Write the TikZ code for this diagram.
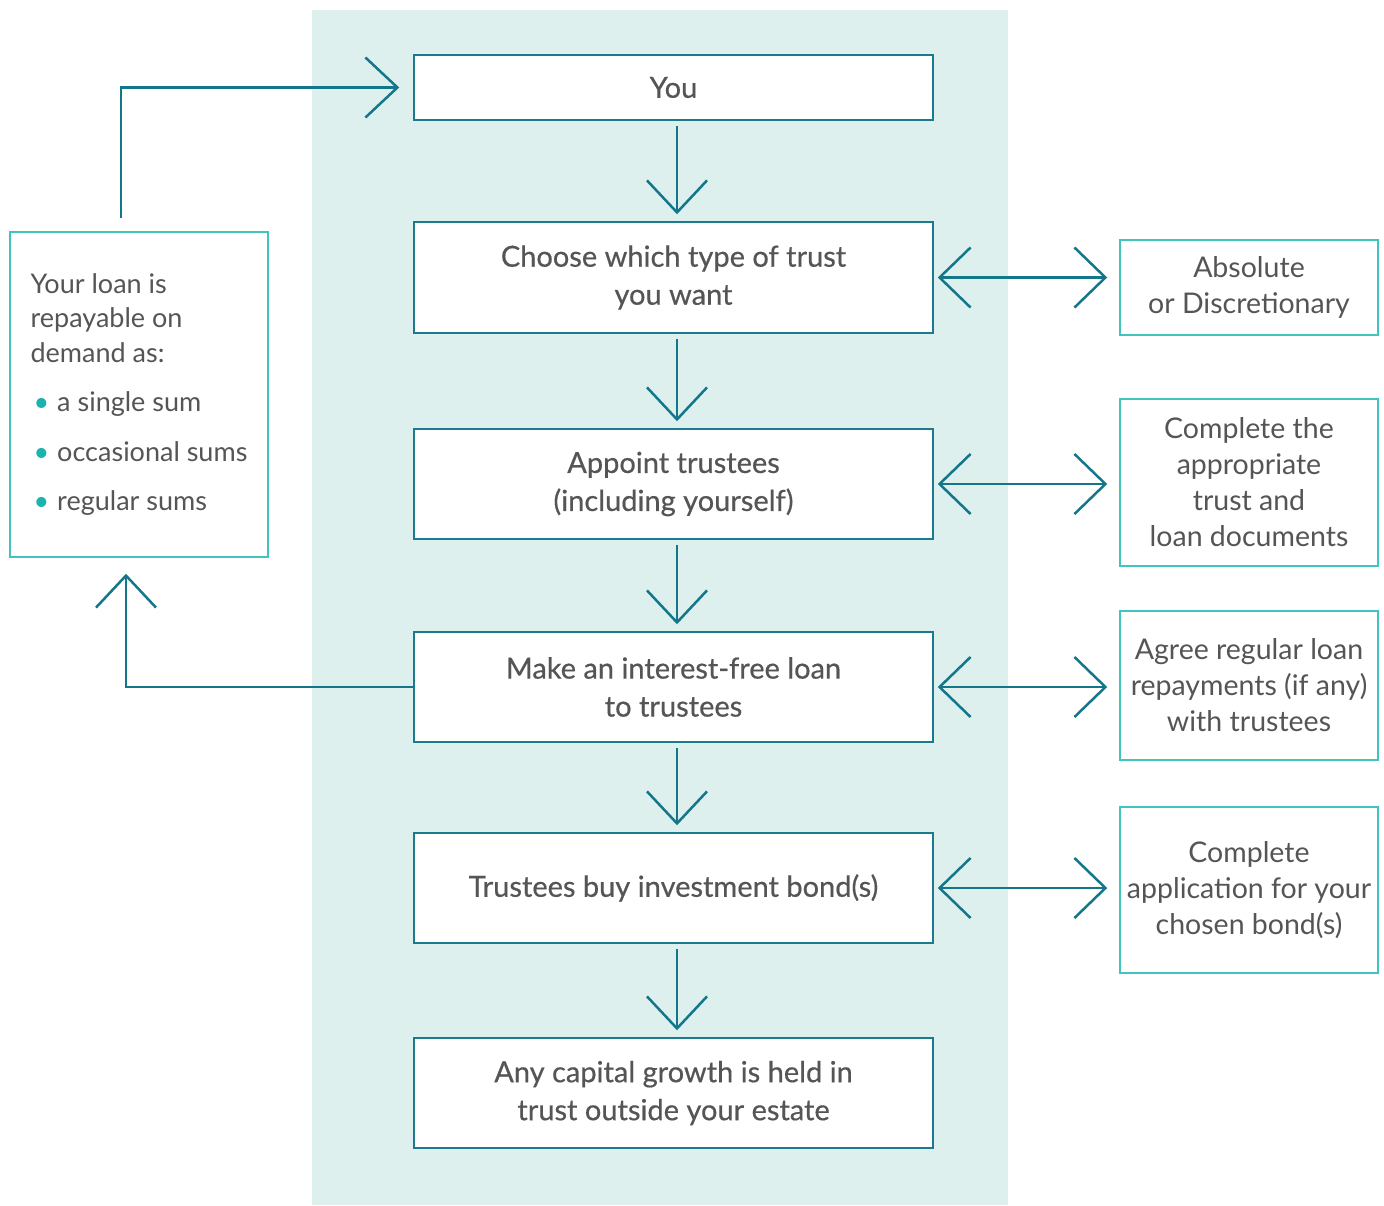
\documentclass[tikz,border=0pt]{standalone}
\usepackage{fontspec}
\setmainfont{Lato}
\newfontfamily\stepfont{Lato}[FakeBold=0.5]
\usetikzlibrary{arrows.meta}
\definecolor{band}{HTML}{DDF0EE}
\definecolor{arrowc}{HTML}{13768A}
\definecolor{boxline}{HTML}{1B7B8E}
\definecolor{sideline}{HTML}{40C4C0}
\definecolor{txt}{HTML}{555555}
\definecolor{dot}{HTML}{1AB3AD}
\newcommand\dotb{\hspace*{3pt}\textcolor{dot}{\textbullet}\hspace{8pt}}
\begin{document}
\begin{tikzpicture}[x=1pt,y=-1pt,
  mainbox/.style={draw=boxline, line width=1.5pt, fill=white, minimum width=519pt,
    align=center, text=txt, font=\stepfont\fontsize{29}{38}\selectfont, inner sep=0pt},
  sidebox/.style={draw=sideline, line width=1.5pt, fill=white, minimum width=258pt,
    align=center, text=txt, font=\fontsize{28.5}{36}\selectfont, inner sep=0pt},
  link/.style={draw=arrowc, line width=2.5pt, -{Straight Barb[length=32pt,width=60pt]}},
  down/.style={link, shorten <=5pt, shorten >=7pt},
  both/.style={draw=arrowc, line width=2.5pt,
    {Straight Barb[length=31pt,width=60pt]}-{Straight Barb[length=31pt,width=60pt]},
    shorten <=4pt, shorten >=12pt}
]
\useasboundingbox (0,0) rectangle (1384,1205);
\fill[band] (312,10) rectangle (1008,1205);

\node[mainbox, minimum height=65pt] (you) at (673.5,87.5) {You};
\node[mainbox, minimum height=111pt] (choose) at (673.5,277.5) {Choose which type of trust\\you want};
\node[mainbox, minimum height=110pt] (appoint) at (673.5,484) {Appoint trustees\\(including yourself)};
\node[mainbox, minimum height=110pt] (loan make) at (673.5,687) {Make an interest-free loan\\to trustees};
\node[mainbox, minimum height=110pt] (buy) at (673.5,888) {Trustees buy investment bond(s)};
\node[mainbox, minimum height=110pt] (growth) at (673.5,1093) {Any capital growth is held in\\trust outside your estate};

\node[sidebox, minimum height=95pt] (kind) at (1249,287.5) {Absolute\\or Discretionary};
\node[sidebox, minimum height=167pt] (docs) at (1249,482.5) {Complete the\\appropriate\\trust and\\loan documents};
\node[sidebox, minimum height=149pt] (repay) at (1249,685.5) {Agree regular loan\\repayments (if any)\\with trustees};
\node[sidebox, minimum height=166pt] (apply) at (1249,890) {Complete\\application for your\\chosen bond(s)};

\node[sidebox, minimum height=325pt, align=left, font=\fontsize{27}{34.5}\selectfont] (loan) at (139,394.5)
  {Your loan is\\repayable on\\demand as:\\[15pt]\dotb a single sum\\[15pt]\dotb occasional sums\\[15pt]\dotb regular sums};

\draw[down] ([xshift=3.5pt]you.south) -- ([xshift=3.5pt]choose.north);
\draw[down] ([xshift=3.5pt]choose.south) -- ([xshift=3.5pt]appoint.north);
\draw[down] ([xshift=3.5pt]appoint.south) -- ([xshift=3.5pt]loan make.north);
\draw[down] ([xshift=3.5pt]loan make.south) -- ([xshift=3.5pt]buy.north);
\draw[down] ([xshift=3.5pt]buy.south) -- ([xshift=3.5pt]growth.north);

\draw[both] (choose.east) -- (choose.east -| kind.west);
\draw[both] (appoint.east) -- (appoint.east -| docs.west);
\draw[both] (loan make.east) -- (loan make.east -| repay.west);
\draw[both] (buy.east) -- (buy.east -| apply.west);

\draw[link] ([xshift=-18pt,yshift=13pt]loan.north) |- ([xshift=-14pt]you.west);
\draw[link] (loan make.west) -| ([xshift=-13pt,yshift=-16pt]loan.south);
\end{tikzpicture}
\end{document}
